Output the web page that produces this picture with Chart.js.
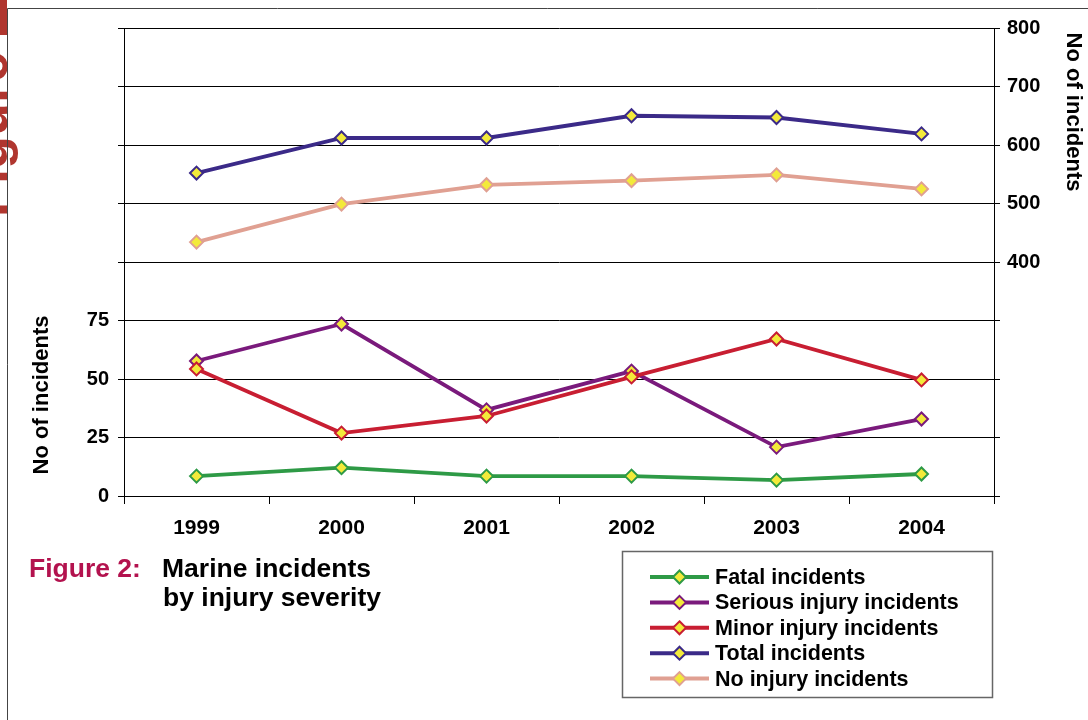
<!DOCTYPE html>
<html>
<head>
<meta charset="utf-8">
<script src="https://cdn.jsdelivr.net/npm/chart.js@4.4.1/dist/chart.umd.min.js"></script>
<style>
  html, body { margin: 0; padding: 0; background: #fff; }
  #wrap { width: 1088px; height: 720px; position: relative; }
</style>
</head>
<body>
<div id="wrap"><canvas id="c" width="1088" height="720"></canvas></div>
<script>
// Years on the category axis
const years = ['1999', '2000', '2001', '2002', '2003', '2004'];

// Left axis series (0–75 band)
const fatal   = [8.5, 12.1, 8.5, 8.5, 6.8, 9.4];
const serious = [57.7, 73.5, 36.8, 53.4, 20.9, 32.9];
const minor   = [54.3, 26.9, 34.2, 50.9, 67.1, 49.6];

// Right axis series (400–800 band)
const total    = [552, 612, 612, 650, 647, 619];
const noInjury = [434, 499, 532, 539, 549, 525];

// Tick labels shown on each value axis
const leftTickLabels  = [0, 25, 50, 75];
const rightTickLabels = [400, 500, 600, 700, 800];

const seriesNames  = ['Fatal incidents', 'Serious injury incidents', 'Minor injury incidents', 'Total incidents', 'No injury incidents'];
const seriesColors = ['#2e9a46', '#7a1a7c', '#c81e32', '#3b2a88', '#e0a092'];

const FONT = '"Liberation Sans", Arial, Helvetica, sans-serif';
const MARKER_FILL = '#f3ea3a';

function makeSet(i, values, axis, order) {
  return {
    label: seriesNames[i],
    data: values,
    yAxisID: axis,
    borderColor: seriesColors[i],
    backgroundColor: seriesColors[i],
    borderWidth: 3.8,
    tension: 0,
    pointStyle: 'rectRot',
    pointRadius: 6.5,
    pointBorderWidth: 2,
    pointBorderColor: seriesColors[i],
    pointBackgroundColor: MARKER_FILL,
    order: order
  };
}

function diamond(ctx, x, y, r) {
  ctx.beginPath();
  ctx.moveTo(x, y - r);
  ctx.lineTo(x + r, y);
  ctx.lineTo(x, y + r);
  ctx.lineTo(x - r, y);
  ctx.closePath();
}

// Page frame, side banner, axis titles, caption and legend box
const decor = {
  id: 'decor',
  afterDraw(chart) {
    const ctx = chart.ctx;
    ctx.save();

    // red side banner, cut off at the page edge
    ctx.fillStyle = '#b0362f';
    ctx.fillRect(0, 0, 7, 35);
    ctx.save();
    ctx.beginPath();
    ctx.rect(0, 0, 22, 720);
    ctx.clip();
    ctx.translate(7, 217);
    ctx.rotate(-Math.PI / 2);
    ctx.font = 'bold 54px ' + FONT;
    ctx.textAlign = 'left';
    ctx.textBaseline = 'alphabetic';
    ctx.fillText('Figure', 0, 0);
    ctx.restore();

    // page frame
    ctx.strokeStyle = '#444';
    ctx.lineWidth = 1;
    ctx.beginPath();
    ctx.moveTo(7.5, 720);
    ctx.lineTo(7.5, 8.5);
    ctx.lineTo(1088, 8.5);
    ctx.stroke();

    // axis titles
    ctx.fillStyle = '#000';
    ctx.font = 'bold 22px ' + FONT;
    ctx.textAlign = 'center';
    ctx.textBaseline = 'middle';
    ctx.save();
    ctx.translate(42, 395);
    ctx.rotate(-Math.PI / 2);
    ctx.fillText('No of incidents', 0, 0);
    ctx.restore();
    ctx.save();
    ctx.translate(1073, 112);
    ctx.rotate(Math.PI / 2);
    ctx.fillText('No of incidents', 0, 0);
    ctx.restore();

    // caption
    ctx.textAlign = 'left';
    ctx.textBaseline = 'alphabetic';
    ctx.font = 'bold 26.5px ' + FONT;
    ctx.fillStyle = '#b3124e';
    ctx.fillText('Figure 2:', 29, 577);
    ctx.fillStyle = '#000';
    ctx.fillText('Marine incidents', 162, 577);
    ctx.fillText('by injury severity', 163, 606);

    // legend box
    ctx.strokeStyle = '#666';
    ctx.lineWidth = 1.5;
    ctx.strokeRect(622.5, 551.5, 370, 146);

    chart.data.datasets.forEach((ds, i) => {
      const y = 577 + i * 25.4;
      ctx.strokeStyle = ds.borderColor;
      ctx.lineWidth = 4;
      ctx.beginPath();
      ctx.moveTo(650, y);
      ctx.lineTo(709, y);
      ctx.stroke();
      diamond(ctx, 679.5, y, 6.5);
      ctx.fillStyle = MARKER_FILL;
      ctx.fill();
      ctx.lineWidth = 2;
      ctx.stroke();
      ctx.fillStyle = '#000';
      ctx.font = 'bold 21.5px ' + FONT;
      ctx.textBaseline = 'middle';
      ctx.fillText(ds.label, 715, y + 1);
    });

    ctx.restore();
  }
};

const tickFont = { family: FONT, size: 20, weight: 'bold' };

new Chart(document.getElementById('c'), {
  type: 'line',
  data: {
    labels: years,
    datasets: [
      makeSet(0, fatal, 'y', 5),
      makeSet(1, serious, 'y', 4),
      makeSet(2, minor, 'y', 3),
      makeSet(3, total, 'y1', 2),
      makeSet(4, noInjury, 'y1', 1)
    ]
  },
  options: {
    responsive: false,
    animation: false,
    devicePixelRatio: 1,
    layout: { padding: { top: 28, left: 0, right: 0, bottom: 0 } },
    plugins: { legend: { display: false }, tooltip: { enabled: false } },
    scales: {
      x: {
        offset: true,
        grid: { offset: true, drawOnChartArea: false, color: '#000', tickLength: 8 },
        border: { color: '#000' },
        ticks: { font: { family: FONT, size: 21, weight: 'bold' }, color: '#000', padding: 12, maxRotation: 0 },
        afterFit(s) { s.height = 224; }
      },
      y: {
        position: 'left',
        min: 0,
        max: 200,
        ticks: {
          stepSize: 25,
          callback: v => leftTickLabels.includes(v) ? String(v) : '',
          font: tickFont, color: '#000', padding: 9
        },
        grid: { color: '#000', tickLength: 6 },
        border: { color: '#000' },
        afterFit(s) { s.width = 124; }
      },
      y1: {
        position: 'right',
        min: 0,
        max: 800,
        ticks: {
          stepSize: 100,
          callback: v => rightTickLabels.includes(v) ? String(v) : '',
          font: tickFont, color: '#000', padding: 7
        },
        grid: { drawOnChartArea: false, color: '#000', tickLength: 6 },
        border: { color: '#000' },
        afterFit(s) { s.width = 94; }
      }
    }
  },
  plugins: [decor]
});
</script>
</body>
</html>
